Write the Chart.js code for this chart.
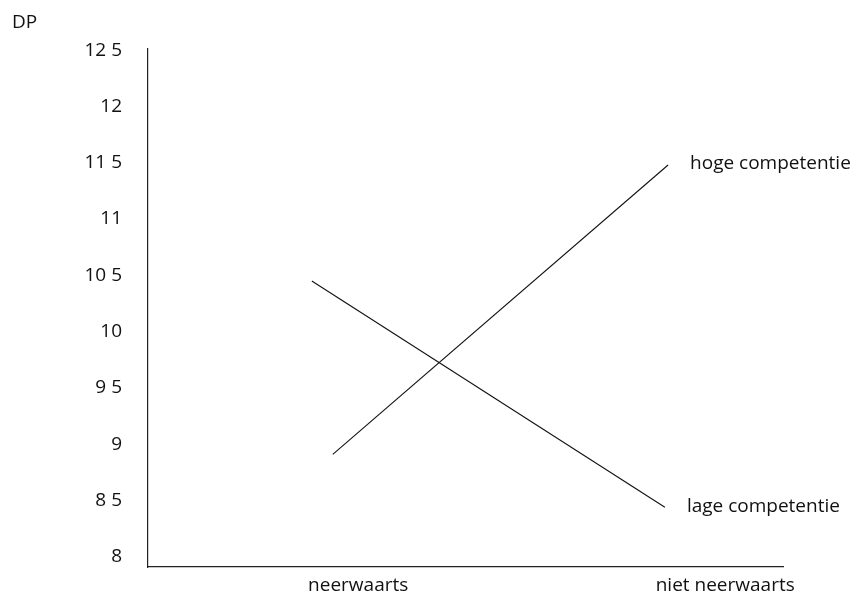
<!DOCTYPE html>
<html>
<head>
<meta charset="utf-8">
<script src="https://cdn.jsdelivr.net/npm/chart.js@4/dist/chart.umd.min.js"></script>
<style>
  html, body { margin: 0; padding: 0; background: #fff; }
  canvas { display: block; }
</style>
</head>
<body>
<canvas id="chart" width="857" height="594"></canvas>
<script>
// categories on the x axis and where their labels sit (0-10 scale)
const categories = ['neerwaarts', 'niet neerwaarts'];
const categoryTickPos = [3.31, 9.09];

// series: x position of each end point + value
const seriesNames = ['hoge competentie', 'lage competentie'];
const hogeX = [2.91, 8.19];
const hogeY = [8.91, 11.48];
const lageX = [2.58, 8.14];
const lageY = [10.45, 8.44];

// y ticks as printed
const yTicks = [8, 8.5, 9, 9.5, 10, 10.5, 11, 11.5, 12, 12.5];
const yTitle = 'DP';

const FONT = '"Open Sans", "DejaVu Sans", sans-serif';

function toPoints(xs, ys) {
    return xs.map((x, i) => ({ x: x, y: ys[i] }));
}

// draws the series names next to the last point + the DP label
const labelPlugin = {
    id: 'seriesLabels',
    afterDatasetsDraw(chart) {
        const ctx = chart.ctx;
        ctx.save();
        ctx.fillStyle = '#111';
        ctx.font = '19px ' + FONT;
        ctx.textBaseline = 'middle';
        ctx.textAlign = 'left';
        chart.data.datasets.forEach((ds, i) => {
            const pts = chart.getDatasetMeta(i).data;
            const last = pts[pts.length - 1];
            ctx.fillText(ds.label, last.x + 22, last.y - 1);
        });
        ctx.fillText(yTitle, 12, 23);
        ctx.restore();
    }
};

new Chart(document.getElementById('chart').getContext('2d'), {
    type: 'line',
    data: {
        datasets: [
            {
                label: seriesNames[0],
                data: toPoints(hogeX, hogeY),
                borderColor: '#111',
                borderWidth: 1.1,
                pointRadius: 0,
                fill: false,
                tension: 0
            },
            {
                label: seriesNames[1],
                data: toPoints(lageX, lageY),
                borderColor: '#111',
                borderWidth: 1.1,
                pointRadius: 0,
                fill: false,
                tension: 0
            }
        ]
    },
    options: {
        responsive: false,
        animation: false,
        layout: {
            padding: { left: 0, right: 74, top: 49, bottom: 0 }
        },
        plugins: {
            legend: { display: false },
            tooltip: { enabled: false }
        },
        scales: {
            x: {
                type: 'linear',
                min: 0,
                max: 10,
                grid: { display: false, drawTicks: false },
                border: { display: true, color: '#222', width: 1.2 },
                afterBuildTicks: function (scale) {
                    scale.ticks = categoryTickPos.map(v => ({ value: v }));
                },
                afterFit: function (scale) {
                    scale.height = 27;
                },
                ticks: {
                    autoSkip: false,
                    maxRotation: 0,
                    padding: 7,
                    color: '#111',
                    font: { family: FONT, size: 19 },
                    callback: function (value, index) {
                        return categories[index];
                    }
                }
            },
            y: {
                min: 7.91,
                max: 12.51,
                grid: { display: false, drawTicks: false },
                border: { display: true, color: '#222', width: 1.2 },
                afterBuildTicks: function (scale) {
                    scale.ticks = yTicks.map(v => ({ value: v }));
                },
                afterFit: function (scale) {
                    scale.width = 148;
                    // tick padding would otherwise push the chart area in
                    scale.paddingTop = 0;
                    scale.paddingBottom = 0;
                },
                ticks: {
                    autoSkip: false,
                    padding: 26,
                    color: '#111',
                    font: { family: FONT, size: 19 },
                    callback: function (value) {
                        return String(value).replace('.', ' ');
                    }
                }
            }
        }
    },
    plugins: [labelPlugin]
});
</script>
</body>
</html>
